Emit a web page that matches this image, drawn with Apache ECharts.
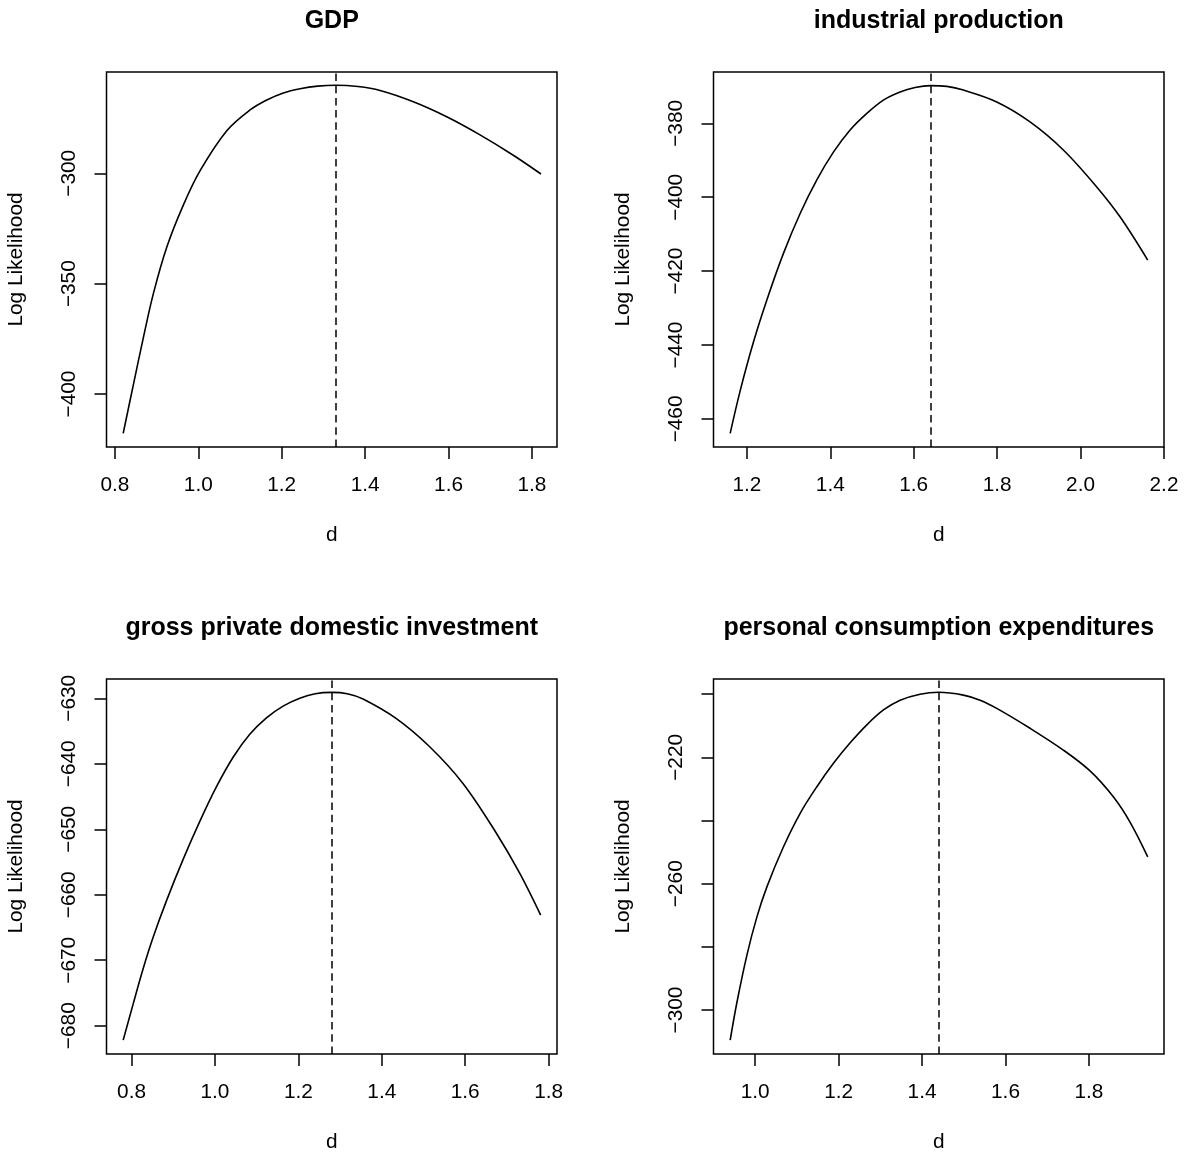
<!DOCTYPE html>
<html>
<head>
<meta charset="utf-8">
<script src="https://cdn.jsdelivr.net/npm/echarts@6/dist/echarts.min.js"></script>
<style>
html,body{margin:0;padding:0;background:#fff;}
#c{width:1188px;height:1156px;}
</style>
</head>
<body>
<div id="c"></div>
<script>
// ---- data ----
const panelTitles = ['GDP', 'industrial production', 'gross private domestic investment', 'personal consumption expenditures'];

const gdpD  = [0.82, 0.8446, 0.8685, 0.8925, 0.9246, 0.9644, 1.0044, 1.0684, 1.1242, 1.1642, 1.204, 1.2442, 1.2865, 1.33, 1.3826, 1.4358, 1.5156, 1.5956, 1.6754, 1.7552, 1.8216];
const gdpLL = [-417.8, -395.6, -374.3, -354.4, -333.4, -314.3, -298.8, -280.7, -271.3, -266.8, -263.6, -261.7, -260.5, -260.1, -260.7, -262.5, -267.6, -274.4, -282.6, -291.8, -300.3];

const ipD  = [1.16, 1.1839, 1.2158, 1.2479, 1.2877, 1.3277, 1.3677, 1.4075, 1.4475, 1.4876, 1.5273, 1.5673, 1.6033, 1.64, 1.6793, 1.7191, 1.7991, 1.8789, 1.9587, 2.0387, 2.0946, 2.1609];
const ipLL = [-463.9, -452.4, -439.2, -427.8, -415.2, -404.4, -395.3, -387.8, -381.8, -377.3, -373.7, -371.5, -370.3, -369.8, -370.0, -371.0, -374.2, -379.6, -387.2, -397.2, -405.3, -417.0];

const gpdiD  = [0.78, 0.8038, 0.8278, 0.8518, 0.8839, 0.9237, 0.9637, 1.0037, 1.0435, 1.0835, 1.1235, 1.1633, 1.2033, 1.2405, 1.28, 1.3171, 1.355, 1.435, 1.5148, 1.5946, 1.6747, 1.7305, 1.7808];
const gpdiLL = [-682.2, -676.7, -671.3, -666.5, -660.9, -654.6, -648.8, -643.5, -639.0, -635.5, -633.0, -631.2, -630.0, -629.3, -629.1, -629.3, -630.1, -633.1, -637.4, -643.0, -650.6, -656.7, -663.1];

const pceD  = [0.94, 0.9561, 0.9801, 1.0041, 1.028, 1.0678, 1.1078, 1.1478, 1.1876, 1.2276, 1.2676, 1.3074, 1.3474, 1.3953, 1.44, 1.4991, 1.5391, 1.5791, 1.6589, 1.7387, 1.8027, 1.8585, 1.8985, 1.941];
const pceLL = [-309.5, -297.6, -282.6, -270.5, -261.0, -248.3, -237.7, -229.3, -221.9, -215.4, -209.7, -205.0, -201.9, -200.0, -199.4, -200.3, -201.9, -204.5, -210.8, -217.7, -224.3, -232.5, -240.5, -251.5];

const peakD = [1.33, 1.64, 1.28, 1.44];

const xTicks1 = [0.8, 1.0, 1.2, 1.4, 1.6, 1.8];
const xTicks2 = [1.2, 1.4, 1.6, 1.8, 2.0, 2.2];
const xTicks3 = [0.8, 1.0, 1.2, 1.4, 1.6, 1.8];
const xTicks4 = [1.0, 1.2, 1.4, 1.6, 1.8];

const yTicks1 = [-400, -350, -300];
const yTicks2 = [-460, -440, -420, -400, -380];
const yTicks3 = [-680, -670, -660, -650, -640, -630];
const yTicks4 = [-300, -280, -260, -240, -220, -200];
const yLabels4 = [-300, -260, -220];

const xRanges = [[0.78, 1.86], [1.12, 2.20], [0.74, 1.82], [0.90, 1.98]];
const yRanges = [[-424.0, -254.1], [-467.6, -366.1], [-684.32, -627.05], [-313.9, -195.2]];

// ---- build ----
const FONT = 'Liberation Sans, Arial, Helvetica, sans-serif';
const lefts = [106.5, 713.5, 106.5, 713.5];
const tops = [72, 72, 679, 679];
const W = 450.5, H = 375;

const ds = [gdpD, ipD, gpdiD, pceD];
const lls = [gdpLL, ipLL, gpdiLL, pceLL];
const xt = [xTicks1, xTicks2, xTicks3, xTicks4];
const yt = [yTicks1, yTicks2, yTicks3, yTicks4];
const yl = [yTicks1, yTicks2, yTicks3, yLabels4];

const fmtMinus = v => String(Math.round(v)).replace('-', '\u2212');

const option = {
  animation: false,
  backgroundColor: '#ffffff',
  title: [], grid: [], xAxis: [], yAxis: [], series: []
};

for (let i = 0; i < 4; i++) {
  option.title.push({
    text: panelTitles[i],
    left: lefts[i] + W / 2,
    top: tops[i] - 63.5,
    textAlign: 'center',
    padding: 0,
    textStyle: { fontFamily: FONT, fontSize: 25, fontWeight: 'bold', color: '#000' }
  });
  option.grid.push({
    left: lefts[i], top: tops[i], width: W, height: H,
    show: true, borderColor: '#000', borderWidth: 1.5, backgroundColor: 'transparent',
    containLabel: false, outerBoundsMode: 'none'
  });
  option.xAxis.push({
    type: 'value', gridIndex: i,
    min: xRanges[i][0], max: xRanges[i][1],
    axisLine: { show: false },
    splitLine: { show: false },
    axisTick: { show: true, customValues: xt[i], length: 12, lineStyle: { color: '#000', width: 1.5 } },
    axisLabel: {
      customValues: xt[i], margin: 28, fontSize: 20.8, fontFamily: FONT, color: '#000',
      formatter: v => Number(v).toFixed(1)
    },
    name: 'd', nameLocation: 'middle', nameGap: 78, nameMoveOverlap: false,
    nameTextStyle: { fontSize: 20.8, fontFamily: FONT, color: '#000' }
  });
  option.yAxis.push({
    type: 'value', gridIndex: i,
    min: yRanges[i][0], max: yRanges[i][1],
    axisLine: { show: false },
    splitLine: { show: false },
    axisTick: { show: true, customValues: yt[i], length: 12, lineStyle: { color: '#000', width: 1.5 } },
    axisLabel: {
      customValues: yl[i], margin: 27, rotate: 90, fontSize: 20.8, fontFamily: FONT, color: '#000',
      formatter: fmtMinus
    },
    name: 'Log Likelihood', nameLocation: 'middle', nameGap: 80, nameRotate: 90, nameMoveOverlap: false,
    nameTextStyle: { fontSize: 20.8, fontFamily: FONT, color: '#000' }
  });
  option.series.push({
    type: 'line', xAxisIndex: i, yAxisIndex: i,
    data: ds[i].map((d, k) => [d, lls[i][k]]),
    showSymbol: false, symbol: 'none', smooth: 0.35,
    lineStyle: { color: '#000', width: 1.6 },
    silent: true,
    markLine: {
      silent: true, symbol: ['none', 'none'],
      label: { show: false },
      lineStyle: { color: '#000', width: 1.5, type: [7.5, 4.7] },
      data: [{ xAxis: peakD[i] }]
    }
  });
}

const chart = echarts.init(document.getElementById('c'), null, { renderer: 'canvas' });
chart.setOption(option);
</script>
</body>
</html>
